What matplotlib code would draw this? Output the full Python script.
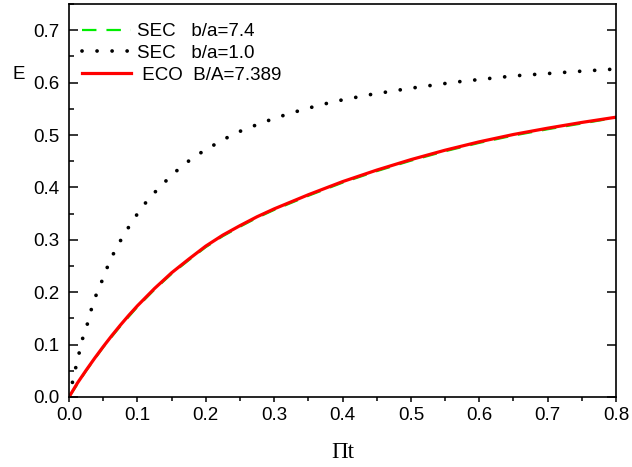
import matplotlib
matplotlib.use("Agg")
import matplotlib.pyplot as plt
from matplotlib.ticker import MultipleLocator

plt.rcParams.update({
    "font.family": ["Liberation Sans", "DejaVu Sans"],
    "font.size": 13.5,
    "axes.linewidth": 1.2,
})

# ECO curve, B/A = 7.389
t_eco = [0.0, 0.0125, 0.025, 0.0375, 0.05, 0.0625, 0.075, 0.0875, 0.1, 0.125,
         0.15, 0.175, 0.2, 0.225, 0.25, 0.275, 0.3, 0.35, 0.4, 0.45,
         0.5, 0.55, 0.6, 0.65, 0.7, 0.75, 0.8]
e_eco = [0.0, 0.027, 0.051, 0.074, 0.096, 0.117, 0.137, 0.156, 0.174, 0.207,
         0.237, 0.263, 0.288, 0.309, 0.327, 0.344, 0.359, 0.386, 0.411, 0.433,
         0.453, 0.471, 0.487, 0.501, 0.513, 0.524, 0.534]

# SEC curve, b/a = 7.4 (almost on top of ECO)
t_sec74 = [0.0, 0.025, 0.05, 0.075, 0.1, 0.125, 0.15, 0.175, 0.2, 0.225,
           0.25, 0.275, 0.3, 0.35, 0.4, 0.45, 0.5, 0.55, 0.6, 0.65,
           0.7, 0.75, 0.8]
e_sec74 = [0.0, 0.050, 0.095, 0.135, 0.172, 0.205, 0.235, 0.261, 0.286, 0.307,
           0.325, 0.342, 0.357, 0.384, 0.409, 0.431, 0.451, 0.469, 0.485, 0.499,
           0.511, 0.522, 0.533]

# SEC curve, b/a = 1.0
t_sec10 = [0.0, 0.005, 0.01, 0.015, 0.02, 0.027, 0.033, 0.04, 0.049, 0.057,
           0.067, 0.079, 0.092, 0.107, 0.125, 0.146, 0.167, 0.19, 0.212, 0.234,
           0.255, 0.29, 0.322, 0.355, 0.388, 0.44, 0.498, 0.565, 0.608, 0.652,
           0.697, 0.74, 0.8]
e_sec10 = [0.0, 0.028, 0.057, 0.085, 0.112, 0.14, 0.169, 0.196, 0.224, 0.251,
           0.279, 0.307, 0.334, 0.363, 0.39, 0.418, 0.443, 0.464, 0.481, 0.497,
           0.51, 0.527, 0.541, 0.553, 0.564, 0.577, 0.589, 0.601, 0.607, 0.613,
           0.617, 0.621, 0.626]

fig = plt.figure(figsize=(6.32, 4.67), dpi=100)
ax = fig.add_axes([0.1092, 0.1499, 0.8655, 0.8415])

ax.plot(t_sec74, e_sec74, color="#00ee00", lw=1.6, linestyle=(0, (6.5, 4.5)),
        label="SEC   b/a=7.4")
ax.plot(t_sec10, e_sec10, color="black", lw=2.7, linestyle=(0, (0.01, 4.0)),
        dash_capstyle="round", label="SEC   b/a=1.0")
ax.plot(t_eco, e_eco, color="#ff0000", lw=2.3, solid_joinstyle="round",
        label=" ECO  B/A=7.389")

ax.set_xlim(0, 0.8)
ax.set_ylim(0, 0.75)
ax.xaxis.set_major_locator(MultipleLocator(0.1))
ax.xaxis.set_minor_locator(MultipleLocator(0.05))
ax.yaxis.set_major_locator(MultipleLocator(0.1))
ax.yaxis.set_minor_locator(MultipleLocator(0.05))
ax.xaxis.set_major_formatter(plt.FormatStrFormatter("%.1f"))
ax.yaxis.set_major_formatter(plt.FormatStrFormatter("%.1f"))

ax.tick_params(axis="x", which="major", direction="out", length=3.5, width=1.1,
               pad=4)
ax.tick_params(axis="x", which="minor", direction="out", length=3, width=1.1)
ax.tick_params(axis="y", which="major", direction="in", length=6.5, width=1.1,
               right=True, pad=7)
ax.tick_params(axis="y", which="minor", direction="in", length=3.4, width=1.1)

ax.set_ylabel("E", rotation=0, fontsize=13.5)
ax.yaxis.set_label_coords(-0.091, 0.80)
ax.set_xlabel("Πt", family=["Liberation Serif", "DejaVu Serif"], fontsize=16.5)
ax.xaxis.set_label_coords(0.50, -0.115)

ax.legend(loc="upper left", frameon=False, fontsize=13.5, handlelength=2.6,
          handletextpad=0.35, labelspacing=0.25, borderaxespad=0.3,
          bbox_to_anchor=(0.0, 0.985))

fig.savefig("out.png", dpi=100)
